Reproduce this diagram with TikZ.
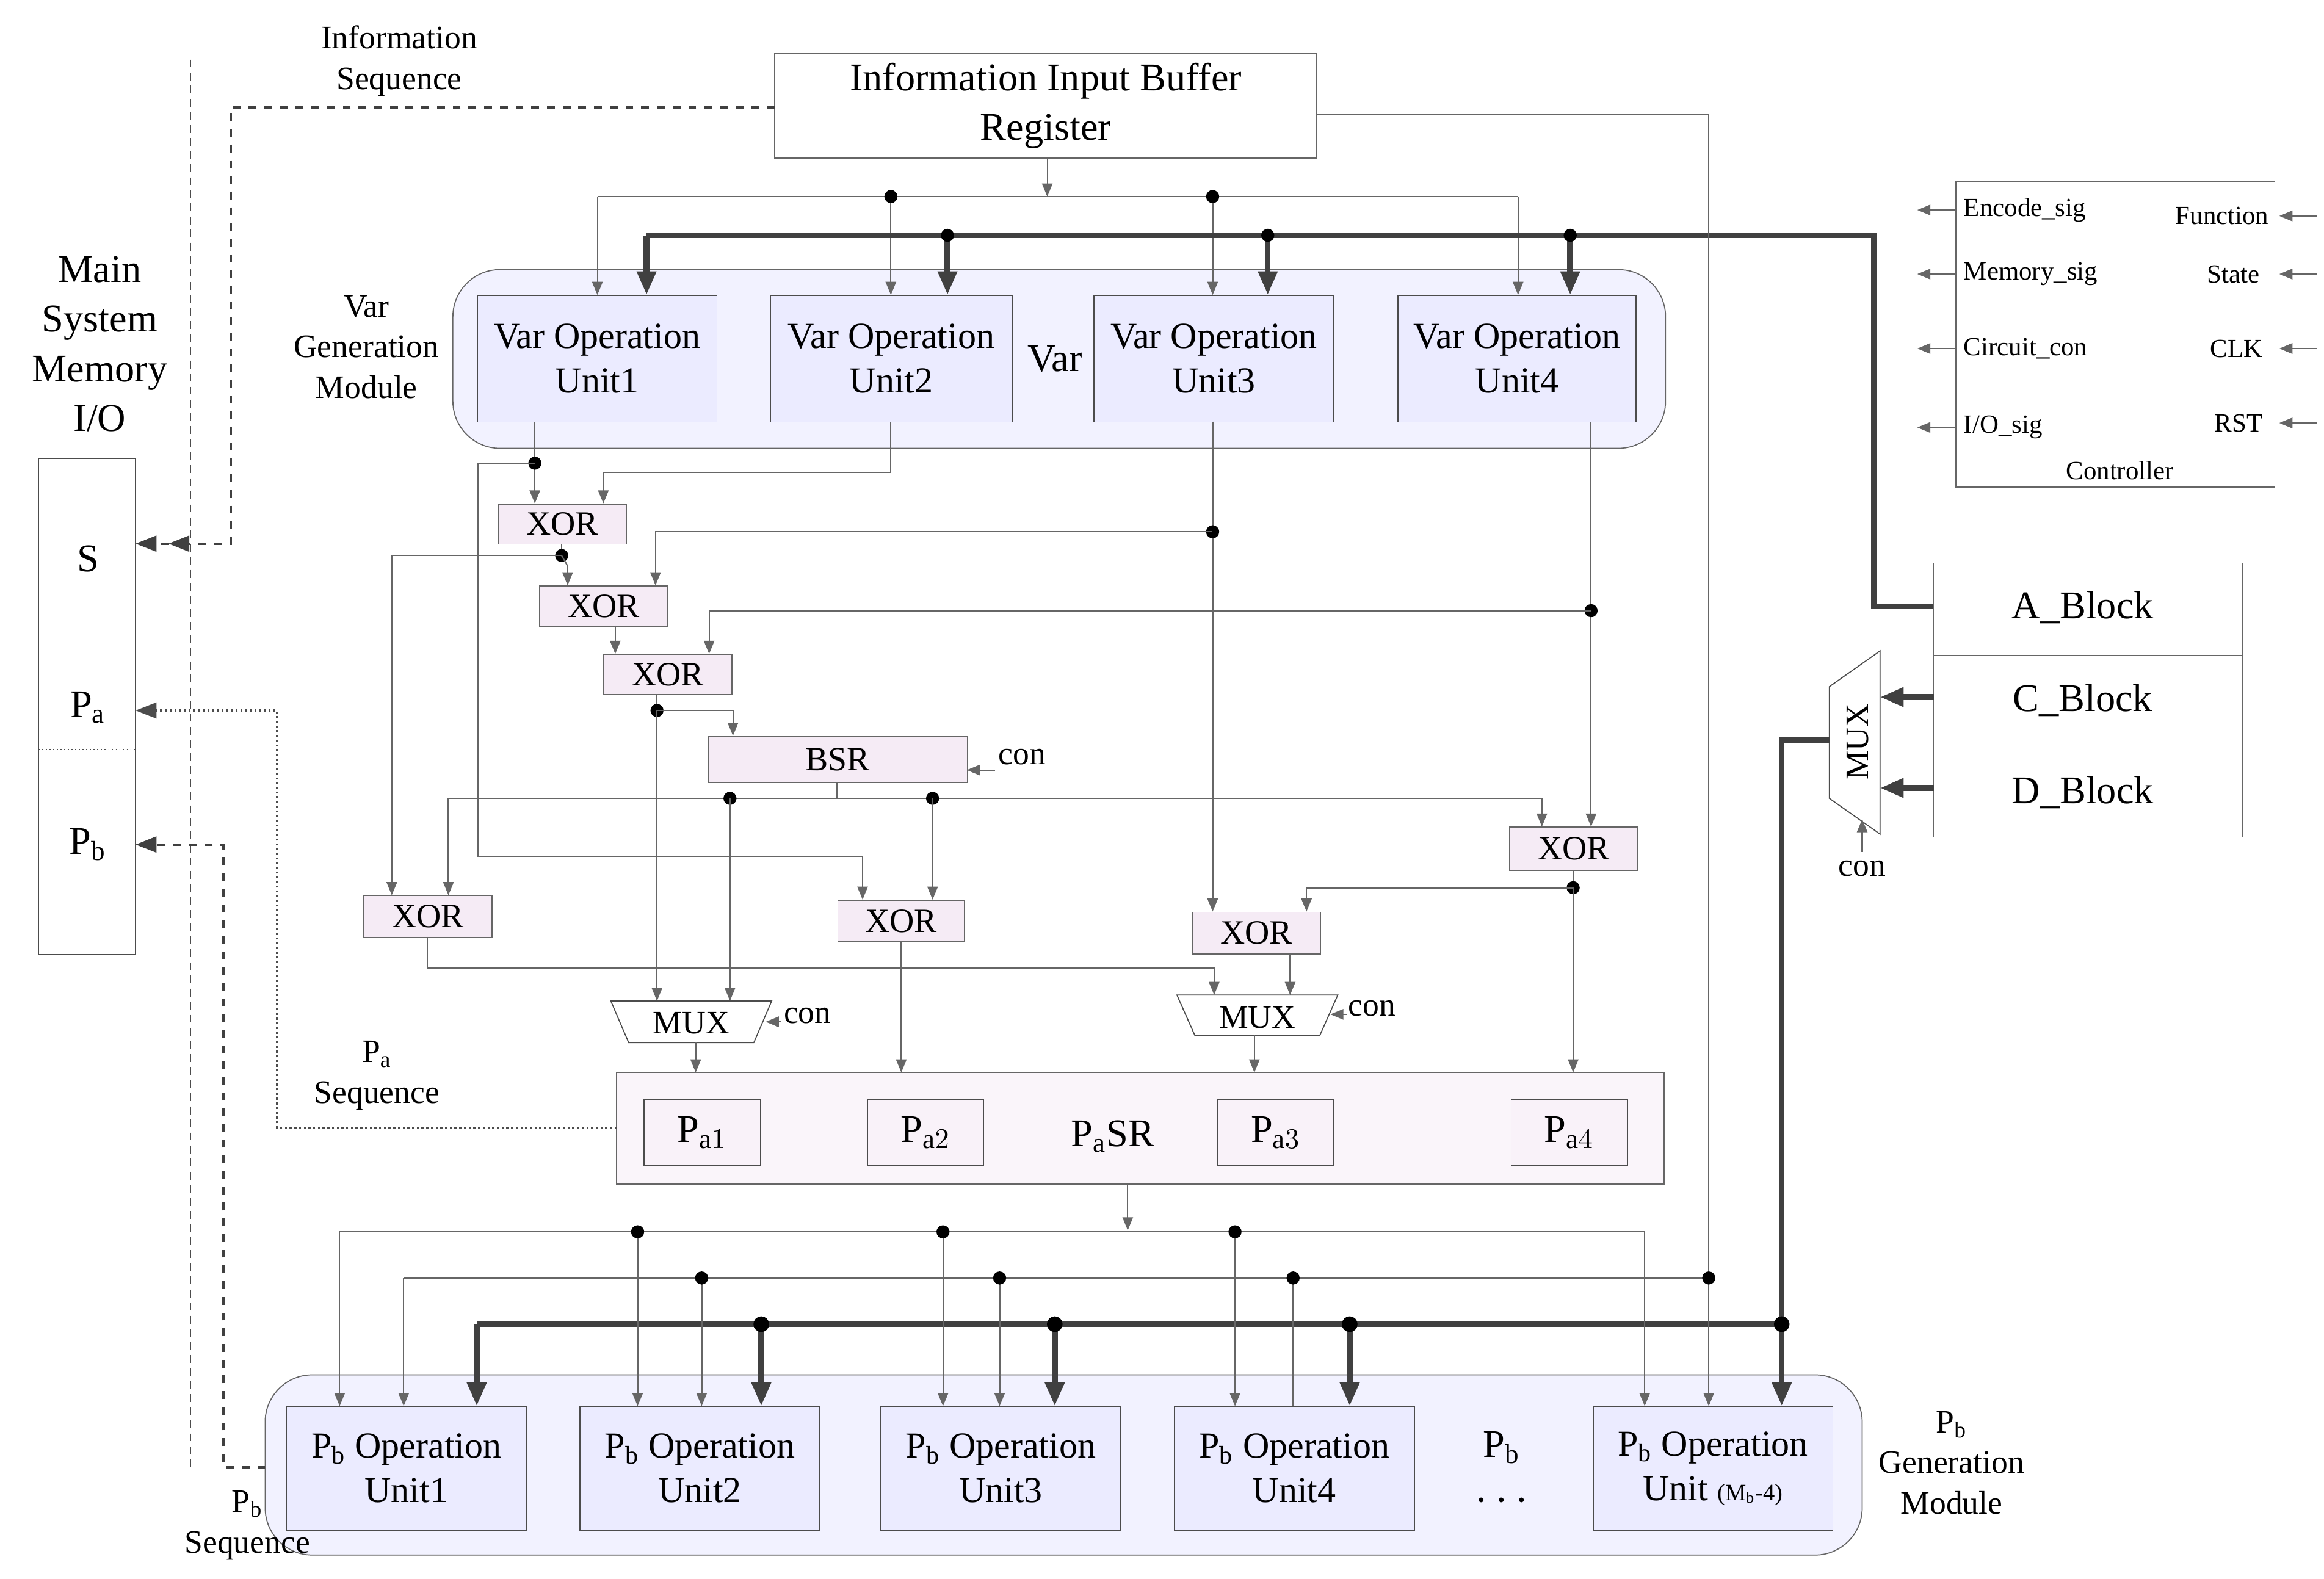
\documentclass[tikz,border=0pt]{standalone}
\usepackage{fontspec}
\setmainfont{Liberation Serif}
\usetikzlibrary{arrows.meta}
\begin{document}
\begin{tikzpicture}[x=0.02cm,y=-0.02cm,
 ln/.style={draw=gray!80!black,line width=0.5pt},
 ta/.style={ln,-{Triangle[length=5pt,width=4pt]}},
 tb/.style={draw=black!75,line width=2.2pt,-{Triangle[length=9pt,width=7pt]}},
 thk/.style={draw=black!75,line width=2.2pt},
 dt/.style={circle,fill=black,inner sep=0pt,minimum size=5pt},
 unit/.style={draw=black!70,fill=blue!8,align=center,font=\fontsize{14}{17}\selectfont,inner sep=0pt},
 xr/.style={draw=black!60,fill=violet!8,font=\fontsize{13}{14}\selectfont,inner sep=0pt},
 lab/.style={font=\fontsize{12.5}{15.5}\selectfont,align=center},
 sm/.style={font=\fontsize{10}{12}\selectfont}]
\useasboundingbox (0,0) rectangle (1560,1060);
% buffer
\draw[black!60] (520,36) rectangle (884,106);
\node[lab,font=\fontsize{15}{19}\selectfont] (buft) at (702,71) {Information Input Buffer\\Register};
% memory
\node[lab,font=\fontsize{15}{19}\selectfont] (mem) at (67,231) {Main\\System\\Memory\\I/O};
\draw[black!70] (26,308) rectangle (91,641);
\draw[densely dotted,black!70] (26,437) -- (91,437) (26,503) -- (91,503);
\node[lab,font=\fontsize{15}{16}\selectfont] (S) at (59,375) {S};
\node[lab,font=\fontsize{15}{16}\selectfont] (Pa) at (59,475) {P$_{\mathrm a}$};
\node[lab,font=\fontsize{15}{16}\selectfont] (Pb) at (59,567) {P$_{\mathrm b}$};
\draw[densely dashed,black!70] (128,40) -- (128,985);
\draw[densely dotted,black!70] (133,40) -- (133,985);
\node[lab] (is) at (268,41) {Information\\Sequence};
\draw[dashed,black!75,line width=1pt,-{Triangle[length=8pt,width=6pt]}] (520,72) -- (155,72) -- (155,365) -- (113,365);
\draw[dashed,black!75,line width=1pt,-{Triangle[length=8pt,width=6pt]}] (124,365) -- (91,365);
% var module
\draw[rounded corners=18pt,draw=black!60,fill=blue!5] (304,181) rectangle (1118,301);
\node[lab] (vgm) at (246,233) {Var\\Generation\\Module};
\node[unit,minimum width=3.22cm,minimum height=1.7cm,anchor=north west] (v1) at (320,198) {Var Operation\\Unit1};
\node[unit,minimum width=3.24cm,minimum height=1.7cm,anchor=north west] (v2) at (517,198) {Var Operation\\Unit2};
\node[unit,minimum width=3.22cm,minimum height=1.7cm,anchor=north west] (v3) at (734,198) {Var Operation\\Unit3};
\node[unit,minimum width=3.2cm,minimum height=1.7cm,anchor=north west] (v4) at (938,198) {Var Operation\\Unit4};
\node[lab,font=\fontsize{15}{16}\selectfont] (var) at (708,241) {Var};
% bus from buffer
\draw[ta] (703,106) -- (703,132);
\draw[ln] (401,132) -- (1019,132);
\foreach \x in {401,598,814,1019} \draw[ta] (\x,132) -- (\x,198);
\node[dt] at (598,132) {}; \node[dt] at (814,132) {};
\draw[thk] (434,158) -- (1258,158) -- (1258,407) -- (1298,407);
\foreach \x in {434,636,851,1054} \draw[tb] (\x,158) -- (\x,198);
\foreach \x in {636,851,1054} \node[dt] at (\x,158) {};
\draw[ln] (884,77) -- (1147,77) -- (1147,860);
% controller
\draw[black!60] (1313,122) rectangle (1527,327);
\node[sm,anchor=west] (c1) at (1312,141) {Encode\_sig};
\node[sm,anchor=west] (c2) at (1312,184) {Memory\_sig};
\node[sm,anchor=west] (c3) at (1312,234) {Circuit\_con};
\node[sm,anchor=west] (c4) at (1312,287) {I/O\_sig};
\node[sm,anchor=east] (c5) at (1529,145) {Function};
\node[sm,anchor=east] (c6) at (1523,184) {State};
\node[sm,anchor=east] (c7) at (1525,234) {CLK};
\node[sm,anchor=east] (c8) at (1525,284) {RST};
\node[sm] (ctl) at (1423,316) {Controller};
\foreach \y in {141,184,234,287} \draw[ta] (1313,\y) -- (1287,\y);
\foreach \y in {145,184,234,284} \draw[ta] (1555,\y) -- (1530,\y);
% blocks
\draw[black!60] (1298,378) rectangle (1505,562);
\draw[black!60] (1298,440) -- (1505,440) (1298,501) -- (1505,501);
\node[lab,font=\fontsize{15}{16}\selectfont] (ab) at (1398,408) {A\_Block};
\node[lab,font=\fontsize{15}{16}\selectfont] (cb) at (1398,470) {C\_Block};
\node[lab,font=\fontsize{15}{16}\selectfont] (db) at (1398,532) {D\_Block};
\draw[black!70] (1228,461) -- (1262,437) -- (1262,560) -- (1228,536) -- cycle;
\node[lab,rotate=90] (mux3) at (1247,498) {MUX};
\draw[tb] (1298,468) -- (1262,468);
\draw[tb] (1298,529) -- (1262,529);
\draw[ta] (1250,572) -- (1250,550);
\node[lab] (con3) at (1250,583) {con};
\draw[thk] (1228,497) -- (1196,497) -- (1196,889) -- (320,889);
% xor etc
\foreach \n/\t/\a/\b/\c/\d in {x1/XOR/334/338/420/365,x2/XOR/362/393/448/420,x3/XOR/405/439/491/466,bsr/BSR/475/494/649/525,xl/XOR/244/601/330/629,xm/XOR/562/604/647/632,xr/XOR/800/612/886/640,xf/XOR/1013/555/1099/584}
  \node[xr,minimum width={(\c-\a)*0.02cm},minimum height={(\d-\b)*0.02cm},anchor=north west] (\n) at (\a,\b) {\t};
\node[lab] (con1) at (686,508) {con};
\draw[ta] (668,517) -- (649,517);
% var outputs
\draw[ta] (359,283) -- (359,338);
\node[dt] at (359,311) {};
\draw[ta] (359,311) -- (321,311) -- (321,575) -- (579,575) -- (579,604);
\draw[ta] (598,283) -- (598,317) -- (405,317) -- (405,338);
\draw[ta] (814,283) -- (814,612);
\node[dt] at (814,357) {};
\draw[ta] (814,357) -- (440,357) -- (440,393);
\draw[ta] (1068,283) -- (1068,555);
\node[dt] at (1068,410) {};
\draw[ta] (1068,410) -- (476,410) -- (476,439);
\draw[ln] (377,365) -- (377,373);
\node[dt] at (377,373) {};
\draw[ta] (377,373) -- (263,373) -- (263,601);
\draw[ta] (377,373) -- (381,380) -- (381,393);
\draw[ta] (413,420) -- (413,439);
\draw[ln] (441,466) -- (441,477);
\node[dt] at (441,477) {};
\draw[ta] (441,477) -- (441,672);
\draw[ta] (441,477) -- (492,477) -- (492,494);
\draw[ln] (562,525) -- (562,536);
\draw[ln] (301,536) -- (1035,536);
\draw[ta] (301,536) -- (301,601);
\draw[ta] (1035,536) -- (1035,555);
\node[dt] at (490,536) {}; \node[dt] at (626,536) {};
\draw[ta] (490,536) -- (490,672);
\draw[ta] (626,536) -- (626,604);
\draw[ta] (287,629) -- (287,650) -- (815,650) -- (815,668);
\draw[ta] (866,640) -- (866,668);
\draw[ln] (1056,584) -- (1056,596);
\node[dt] at (1056,596) {};
\draw[ta] (1056,596) -- (877,596) -- (877,612);
\draw[ta] (1056,596) -- (1056,720);
\draw[ta] (605,632) -- (605,720);
% muxes
\draw[black!70,fill=white] (410,672) -- (518,672) -- (506,700) -- (422,700) -- cycle;
\node[lab] (m1) at (464,687) {MUX};
\draw[black!70,fill=white] (790,668) -- (898,668) -- (886,695) -- (802,695) -- cycle;
\node[lab] (m2) at (844,683) {MUX};
\draw[ta] (524,686) -- (514,686);
\node[lab] (cm1) at (542,682) {con};
\draw[ta] (904,681) -- (893,681);
\node[lab] (cm2) at (921,677) {con};
\draw[ta] (467,700) -- (467,720);
\draw[ta] (842,695) -- (842,720);
% PaSR
\draw[black!60,fill=violet!4] (414,720) rectangle (1117,795);
\foreach \n/\a/\s in {p1/432/1,p2/582/2,p3/817/3,p4/1014/4}
  \node[unit,fill=violet!5,minimum width=1.56cm,minimum height=0.88cm,anchor=north west,font=\fontsize{15}{16}\selectfont] (\n) at (\a,738) {P$_{\mathrm a\s}$};
\node[lab,font=\fontsize{15}{16}\selectfont] (pasr) at (747,763) {P$_{\mathrm a}$SR};
\node[lab] (pas) at (253,722) {P$_{\mathrm a}$\\Sequence};
\draw[densely dotted,black!70,line width=0.8pt,-{Triangle[length=8pt,width=6pt]}] (414,757) -- (186,757) -- (186,477) -- (91,477);
\draw[ta] (757,795) -- (757,826);
% Pb module
\draw[rounded corners=18pt,draw=black!60,fill=blue!5] (178,923) rectangle (1250,1044);
\node[lab] (pbgm) at (1310,982) {P$_{\mathrm b}$\\Generation\\Module};
\node[lab] (pbs) at (166,1024) {P$_{\mathrm b}$\\Sequence};
\draw[dashed,black!75,line width=1pt,-{Triangle[length=8pt,width=6pt]}] (178,985) -- (150,985) -- (150,567) -- (91,567);
\foreach \n/\a/\t in {b1/192/Unit1,b2/389/Unit2,b3/591/Unit3,b4/788/Unit4}
  \node[unit,minimum width=3.22cm,minimum height=1.66cm,anchor=north west] (\n) at (\a,944) {P$_{\mathrm b}$ Operation\\\t};
\node[unit,minimum width=3.22cm,minimum height=1.66cm,anchor=north west] (b5) at (1069,944) {P$_{\mathrm b}$ Operation\\Unit {\fontsize{9}{10}\selectfont (M$_{\mathrm b}$-4)}};
\node[lab,font=\fontsize{15}{16}\selectfont] (pbt) at (1008,972) {P$_{\mathrm b}$};
\node[font=\fontsize{18}{18}\selectfont] (dots) at (1008,1008) {$\cdots$};
% Pb buses
\draw[ln] (228,827) -- (1104,827);
\foreach \x in {228,428,633,829,1104} \draw[ta] (\x,827) -- (\x,944);
\foreach \x in {428,633,829} \node[dt] at (\x,827) {};
\draw[ln] (271,858) -- (1147,858);
\foreach \x in {271,471,671,1147} \draw[ta] (\x,858) -- (\x,944);
\draw[ln] (868,858) -- (868,944);
\foreach \x in {471,671,868,1147} \node[dt] at (\x,858) {};
\foreach \x in {320,511,708,906,1196} \draw[tb] (\x,889) -- (\x,944);
\foreach \x in {511,708,906,1196} \node[dt,minimum size=6pt] at (\x,889) {};
\end{tikzpicture}
\end{document}
